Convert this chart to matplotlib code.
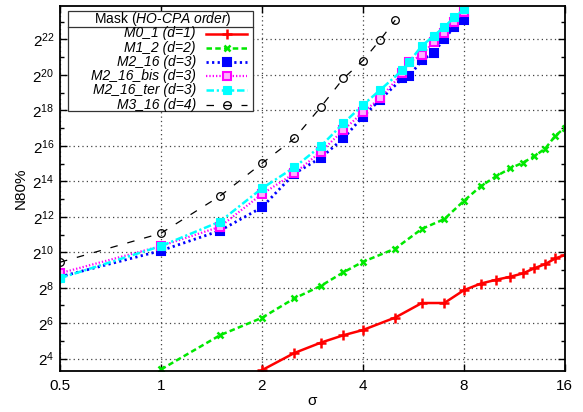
import matplotlib
matplotlib.use('Agg')
import matplotlib.pyplot as plt
from matplotlib.lines import Line2D
from matplotlib.patches import Rectangle
from matplotlib.ticker import FixedLocator, FuncFormatter, NullLocator, NullFormatter
import numpy as np

plt.rcParams['font.family'] = ['Liberation Sans', 'DejaVu Sans']
plt.rcParams['mathtext.fontset'] = 'custom'
plt.rcParams['mathtext.rm'] = 'Liberation Sans'
plt.rcParams['mathtext.it'] = 'Liberation Sans:italic'

# sigma values and N80%
sigma_m0 = [2, 2.5, 3, 3.5, 4, 5, 6, 7, 8, 9, 10, 11, 12, 13, 14, 15, 16]
n_m0 = [10.2, 20, 30, 40, 49, 80, 141, 141, 232, 302, 350, 393, 448, 550, 645, 805, 916]

sigma_m1 = [1, 1.5, 2, 2.5, 3, 3.5, 4, 5, 6, 7, 8, 9, 10, 11, 12, 13, 14, 15, 16]
n_m1 = [10.5, 40, 79, 169, 276, 468, 704, 1184, 2556, 3743, 7600, 13590, 20030,
        27170, 33900, 43830, 59040, 97260, 132600]

sigma_m2 = [0.5, 1, 1.5, 2, 2.5, 3, 3.5, 4, 4.5, 5.25, 5.5, 6, 6.5, 7, 7.5, 8]
n_m2 = [393, 1090, 2386, 5914, 22200, 41200, 87700, 205700, 397000, 913000,
        999000, 1.864e6, 2.494e6, 4.28e6, 6.86e6, 8.93e6]
n_m2_bis = [452, 1305, 2779, 9950, 22380, 52140, 121400, 242900, 420000, 1.124e6,
            1.751e6, 2.279e6, 3.834e6, 5.498e6, 8.33e6, 1.236e7]
n_m2_ter = [372, 1305, 3397, 12420, 28330, 65080, 158100, 322700, 577800, 1.265e6,
            1.751e6, 3.268e6, 4.787e6, 6.862e6, 9.91e6, 1.372e7]

sigma_m3 = [0.5, 1, 1.5, 2, 2.5, 3, 3.5, 4, 4.5, 5]
n_m3 = [694, 2150, 9217, 33000, 87700, 301200, 913000, 1.826e6, 4.079e6, 8.93e6]

x_ticks = [0.5, 1, 2, 4, 8, 16]
x_tick_labels = ['0.5', '1', '2', '4', '8', '16']

W, H = 583, 412
fig = plt.figure(figsize=(W / 100, H / 100), dpi=100)
fig.subplots_adjust(left=0.1029, right=0.9686, bottom=0.1002, top=0.9854)
ax = fig.add_subplot(111)

styles = [
    dict(color='#ff0000', lw=1.8, ls='-', marker='+', ms=6.5, mew=1.8),
    dict(color='#00e800', lw=1.8, ls=(0, (2.2, 1.3)), marker='x', ms=5, mew=1.8),
    dict(color='#0000ff', lw=2.0, ls=(0, (0.8, 1.2)), marker='s', ms=5.5, mew=1.5),
    dict(color='#ff00ff', lw=1.6, ls=(0, (0.6, 0.9)), marker='s', ms=6, mew=1.5,
         mfc='#ffb0ff'),
    dict(color='#00ffff', lw=1.8, ls=(0, (3, 1.1, 0.9, 1.1)), marker='s', ms=6, mew=0.8),
    dict(color='black', lw=0.9, ls=(0, (6, 8)), marker='o', ms=5.5, mew=0.9, mfc='none'),
]
labels = ['M0_1 (d=1)', 'M1_2 (d=2)', 'M2_16 (d=3)', 'M2_16_bis (d=3)',
          'M2_16_ter (d=3)', 'M3_16 (d=4)']
series = [(sigma_m0, n_m0), (sigma_m1, n_m1), (sigma_m2, n_m2),
          (sigma_m2, n_m2_bis), (sigma_m2, n_m2_ter), (sigma_m3, n_m3)]

for (xs, ys), st in zip(series, styles):
    ax.plot(xs, ys, **st)

ax.set_xscale('log', base=2)
ax.set_yscale('log', base=2)
ax.set_xlim(0.5, 16)
ax.set_ylim(10, 1.55e7)

ax.xaxis.set_major_locator(FixedLocator(x_ticks))
ax.set_xticklabels(x_tick_labels)
ax.xaxis.set_minor_locator(NullLocator())

ax.yaxis.set_major_locator(FixedLocator([2.0 ** k for k in range(4, 24, 2)]))
ax.yaxis.set_minor_locator(FixedLocator([2.0 ** k for k in range(3, 24, 2)]))
ax.yaxis.set_major_formatter(FuncFormatter(
    lambda v, pos: '$2^{%d}$' % int(round(np.log2(v)))))
ax.yaxis.set_minor_formatter(NullFormatter())

ax.tick_params(which='both', direction='in', top=True, right=True, labelsize=11,
               width=1.0)
ax.tick_params(which='major', length=5)
ax.tick_params(which='minor', length=3)
ax.tick_params(axis='x', pad=6)
ax.tick_params(axis='y', pad=4)
for sp in ax.spines.values():
    sp.set_linewidth(1.3)

ax.grid(True, which='major', ls=(0, (1, 2.5)), color='#444444', lw=0.9)

ax.set_xlabel('σ', fontsize=11, labelpad=1)
ax.set_ylabel('N80%', fontsize=11, labelpad=3)


# gnuplot-like key box, drawn in figure pixels
def fx(px):
    return px / W


def fy(py):
    return 1 - py / H


box_l, box_r, box_t, box_b = 68, 253, 11, 111
title_sep = 26.5
fig.add_artist(Rectangle((fx(box_l), fy(box_b)), fx(box_r - box_l), (box_b - box_t) / H,
                         transform=fig.transFigure, facecolor='white',
                         edgecolor='#333333', lw=0.9, zorder=5))
fig.add_artist(Line2D([fx(box_l), fx(box_r)], [fy(title_sep), fy(title_sep)],
                      transform=fig.transFigure, color='#333333', lw=0.9, zorder=6))
fig.text(fx((box_l + box_r) / 2 + 2), fy(19), r'Mask ($\mathit{HO}$-$\mathit{CPA\ order}$)',
         ha='center', va='center', fontsize=10, zorder=7)

row_y = [33.5, 47.7, 61.9, 76.1, 90.3, 104.5]
for lab, st, ry in zip(labels, styles, row_y):
    fig.text(fx(196), fy(ry), lab, ha='right', va='center', fontsize=10,
             style='italic', zorder=7)
    line_kw = {k: v for k, v in st.items() if k not in ('marker', 'ms', 'mew', 'mfc')}
    fig.add_artist(Line2D([fx(206), fx(247)], [fy(ry), fy(ry)], transform=fig.transFigure,
                          zorder=7, **line_kw))
    mark_kw = {k: v for k, v in st.items() if k in ('color', 'marker', 'ms', 'mew', 'mfc')}
    fig.add_artist(Line2D([fx(226.5)], [fy(ry)], transform=fig.transFigure, ls='none',
                          zorder=8, **mark_kw))

fig.savefig('out.png', dpi=100)
